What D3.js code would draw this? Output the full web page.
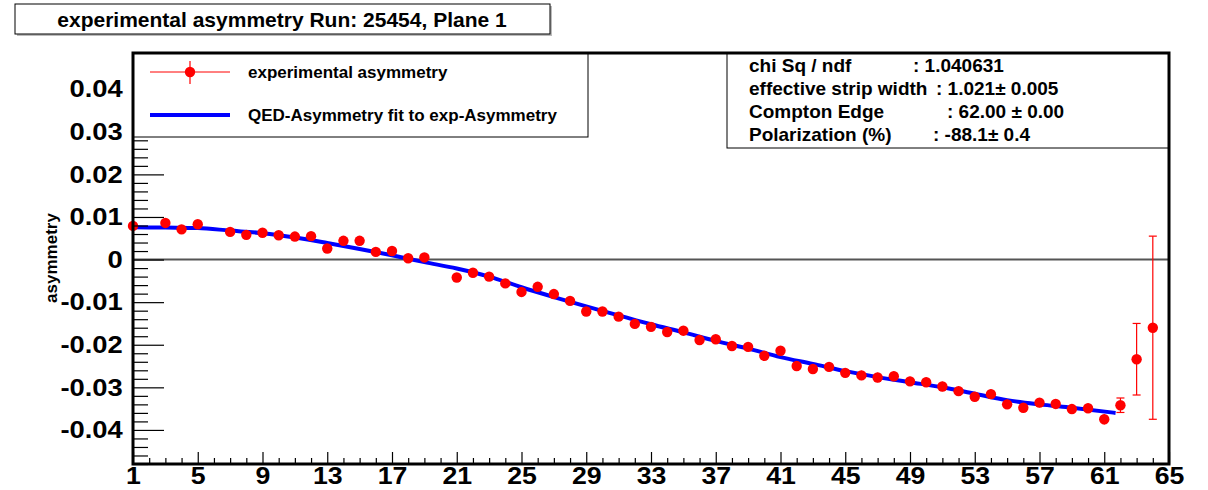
<!DOCTYPE html>
<html>
<head>
<meta charset="utf-8">
<script src="https://cdn.jsdelivr.net/npm/d3@7"></script>
<style>
  body { margin: 0; background: #fff; }
  svg text { font-family: "Liberation Sans", Arial, Helvetica, sans-serif; font-weight: bold; fill: #000; }
</style>
</head>
<body>
<svg id="chart" width="1208" height="490"></svg>
<script>
// ---- data -------------------------------------------------------------
// strips with a measured asymmetry (2, 6 and 20 are masked)
const strips = [1, 3, 4, 5, 7, 8, 9, 10, 11, 12, 13, 14, 15, 16, 17, 18, 19,
  21, 22, 23, 24, 25, 26, 27, 28, 29, 30, 31, 32, 33, 34, 35, 36, 37, 38, 39, 40,
  41, 42, 43, 44, 45, 46, 47, 48, 49, 50, 51, 52, 53, 54, 55, 56, 57, 58, 59, 60,
  61, 62, 63, 64];
const asym = [0.0079, 0.0086, 0.0071, 0.0083, 0.0065, 0.0058, 0.0063, 0.0057, 0.0054, 0.0055,
  0.0026, 0.0044, 0.0044, 0.0018, 0.0020, 0.0003, 0.0005,
  -0.0042, -0.0031, -0.0040, -0.0056, -0.0076, -0.0064, -0.0081, -0.0097, -0.0122, -0.0122,
  -0.0134, -0.0151, -0.0158, -0.0170, -0.0167, -0.0189, -0.0187, -0.0203, -0.0205, -0.0226,
  -0.0214, -0.0250, -0.0257, -0.0252, -0.0266, -0.0272, -0.0277, -0.0274, -0.0286, -0.0288,
  -0.0298, -0.0309, -0.0322, -0.0316, -0.0340, -0.0348, -0.0336, -0.0339, -0.0351, -0.0349,
  -0.0375, -0.0342, -0.0234, -0.0160];
const asymErr = [0.0010, 0.0010, 0.0010, 0.0010, 0.0010, 0.0010, 0.0010, 0.0010, 0.0010, 0.0010,
  0.0010, 0.0010, 0.0010, 0.0010, 0.0010, 0.0010, 0.0010,
  0.0010, 0.0010, 0.0010, 0.0010, 0.0010, 0.0010, 0.0010, 0.0010, 0.0010, 0.0010,
  0.0010, 0.0010, 0.0010, 0.0010, 0.0010, 0.0010, 0.0010, 0.0010, 0.0010, 0.0010,
  0.0011, 0.0011, 0.0011, 0.0011, 0.0011, 0.0011, 0.0011, 0.0011, 0.0011, 0.0011,
  0.0011, 0.0011, 0.0011, 0.0011, 0.0011, 0.0011, 0.0011, 0.0011, 0.0011, 0.0011,
  0.0012, 0.0017, 0.0084, 0.0215];

// QED asymmetry fit evaluated along the strips
const fitStrips = [1, 3, 5, 7, 9, 11, 13, 15, 17, 19, 21, 23, 25, 27, 29, 31, 33, 35, 37, 39,
  41, 43, 45, 47, 49, 51, 53, 55, 57, 59, 61.7];
const fitAsym = [0.0076, 0.0075, 0.0074, 0.0068, 0.0062, 0.0052, 0.0039, 0.0025, 0.0010, -0.0006,
  -0.0021, -0.0040, -0.0065, -0.0088, -0.0110, -0.0131, -0.0152, -0.0171, -0.0191, -0.0209,
  -0.0229, -0.0245, -0.0262, -0.0276, -0.0288, -0.0300, -0.0315, -0.0330, -0.0340, -0.0348, -0.0360];

const xTickValues = [1, 5, 9, 13, 17, 21, 25, 29, 33, 37, 41, 45, 49, 53, 57, 61, 65];
const xTickLabels = ["1", "5", "9", "13", "17", "21", "25", "29", "33", "37", "41", "45", "49", "53", "57", "61", "65"];
const yTickValues = [0.04, 0.03, 0.02, 0.01, 0, -0.01, -0.02, -0.03, -0.04];
const yTickLabels = ["0.04", "0.03", "0.02", "0.01", "0", "-0.01", "-0.02", "-0.03", "-0.04"];

const titleText = "experimental asymmetry Run: 25454, Plane 1";
const yTitle = "asymmetry";
const legendLabels = ["experimental asymmetry", "QED-Asymmetry fit to exp-Asymmetry"];
const statsNames = ["chi Sq / ndf", "effective strip width", "Compton Edge", "Polarization (%)"];
const statsValues = [": 1.040631", ": 1.021\u00b1 0.005", ": 62.00 \u00b1 0.00", ": -88.1\u00b1 0.4"];

// ---- layout -----------------------------------------------------------
const F = { left: 133, right: 1169, top: 53, bottom: 464 };
const svg = d3.select("#chart");

const x = d3.scaleLinear().domain([1, 65]).range([F.left, F.right]);
const y = d3.scaleLinear().domain([-0.048, 0.0485]).range([F.bottom, F.top]);

const R = 5.2; // marker radius
const points = strips.map((s, i) => ({ s, v: asym[i], e: asymErr[i] }));
const fitPts = fitStrips.map((s, i) => ({ s, v: fitAsym[i] }));

// zero line
svg.append("line")
  .attr("x1", F.left).attr("x2", F.right)
  .attr("y1", y(0)).attr("y2", y(0))
  .attr("stroke", "#555").attr("stroke-width", 2);

// fit curve
svg.append("path")
  .datum(fitPts)
  .attr("fill", "none")
  .attr("stroke", "#0000ff")
  .attr("stroke-width", 4)
  .attr("d", d3.line().x(d => x(d.s)).y(d => y(d.v)).curve(d3.curveMonotoneX));

// error bars; end caps only where the bar reaches past the marker
const eb = svg.append("g").attr("stroke", "#ff0000").attr("stroke-width", 1.2);
eb.selectAll("line.bar").data(points).join("line").attr("class", "bar")
  .attr("x1", d => x(d.s)).attr("x2", d => x(d.s))
  .attr("y1", d => y(d.v + d.e)).attr("y2", d => y(d.v - d.e));
const capped = points.filter(d => y(d.v - d.e) - y(d.v) > R + 2);
eb.selectAll("line.capT").data(capped).join("line").attr("class", "capT")
  .attr("x1", d => x(d.s) - 4).attr("x2", d => x(d.s) + 4)
  .attr("y1", d => y(d.v + d.e)).attr("y2", d => y(d.v + d.e));
eb.selectAll("line.capB").data(capped).join("line").attr("class", "capB")
  .attr("x1", d => x(d.s) - 4).attr("x2", d => x(d.s) + 4)
  .attr("y1", d => y(d.v - d.e)).attr("y2", d => y(d.v - d.e));

// markers
svg.append("g").selectAll("circle").data(points).join("circle")
  .attr("cx", d => x(d.s)).attr("cy", d => y(d.v)).attr("r", R)
  .attr("fill", "#ff0000");

// ---- axes (ticks drawn inside the frame) -------------------------------
const yMinor = d3.range(-24, 25).map(k => k * 0.002).filter(v => Math.abs(Math.round(v * 100) - v * 100) > 1e-6);
const xMinor = d3.range(1, 66).filter(v => (v - 1) % 4 !== 0);

const yMinorAxis = d3.axisLeft(y).tickValues(yMinor).tickSize(-15).tickFormat("");
const yMajorAxis = d3.axisLeft(y).tickValues(yTickValues).tickSize(-31).tickPadding(9)
  .tickFormat((d, i) => yTickLabels[i]);
const xMinorAxis = d3.axisBottom(x).tickValues(xMinor).tickSize(-6).tickFormat("");
const xMajorAxis = d3.axisBottom(x).tickValues(xTickValues).tickSize(-12).tickPadding(4)
  .tickFormat((d, i) => xTickLabels[i]);

function styleAxis(g) {
  g.select(".domain").remove();
  g.selectAll(".tick line").attr("stroke", "#000").attr("stroke-width", 1.2);
}

svg.append("g").attr("transform", `translate(${F.left},0)`).call(yMinorAxis).call(styleAxis);
const gy = svg.append("g").attr("transform", `translate(${F.left},0)`).call(yMajorAxis).call(styleAxis);
svg.append("g").attr("transform", `translate(0,${F.bottom})`).call(xMinorAxis).call(styleAxis);
const gx = svg.append("g").attr("transform", `translate(0,${F.bottom})`).call(xMajorAxis).call(styleAxis);

gy.selectAll(".tick text")
  .attr("font-family", "Liberation Sans, Arial, sans-serif").attr("font-weight", "bold")
  .attr("font-size", 24).attr("fill", "#000")
  .attr("transform", "scale(1.14,1)");
gx.selectAll(".tick text")
  .attr("font-family", "Liberation Sans, Arial, sans-serif").attr("font-weight", "bold")
  .attr("font-size", 23).attr("fill", "#000")
  .attr("transform", "scale(1.16,1)");
gx.selectAll(".tick text").attr("x", 0);

// y axis title
svg.append("text")
  .attr("transform", "translate(51,258) rotate(-90)")
  .attr("text-anchor", "middle").attr("dominant-baseline", "central")
  .attr("font-size", 17).text(yTitle);

// ---- legend -----------------------------------------------------------
const leg = svg.append("g");
leg.append("rect").attr("x", F.left).attr("y", F.top).attr("width", 455).attr("height", 84)
  .attr("fill", "#fff").attr("stroke", "#000").attr("stroke-width", 1);
leg.append("line").attr("x1", 150).attr("x2", 230).attr("y1", 72).attr("y2", 72)
  .attr("stroke", "#ff0000").attr("stroke-width", 1);
leg.append("line").attr("x1", 190).attr("x2", 190).attr("y1", 61).attr("y2", 84)
  .attr("stroke", "#ff0000").attr("stroke-width", 1.2);
leg.append("circle").attr("cx", 190).attr("cy", 72).attr("r", R).attr("fill", "#ff0000");
leg.append("line").attr("x1", 150).attr("x2", 230).attr("y1", 115).attr("y2", 115)
  .attr("stroke", "#0000ff").attr("stroke-width", 4);
leg.selectAll("text.lab").data(legendLabels).join("text").attr("class", "lab")
  .attr("x", 248).attr("y", (d, i) => i === 0 ? 72 : 115)
  .attr("dominant-baseline", "central").attr("font-size", 17).text(d => d);

// ---- fit statistics box -----------------------------------------------
const st = svg.append("g");
st.append("rect").attr("x", 727).attr("y", F.top).attr("width", F.right - 727).attr("height", 95)
  .attr("fill", "#fff").attr("stroke", "#000").attr("stroke-width", 1);
const statY = [65, 88.5, 111, 134];
const statValX = [913, 936, 947, 933];
st.selectAll("text.name").data(statsNames).join("text").attr("class", "name")
  .attr("x", 749).attr("y", (d, i) => statY[i])
  .attr("dominant-baseline", "central").attr("font-size", 19).text(d => d);
st.selectAll("text.val").data(statsValues).join("text").attr("class", "val")
  .attr("x", (d, i) => statValX[i]).attr("y", (d, i) => statY[i])
  .attr("dominant-baseline", "central").attr("font-size", 19).text(d => d);

// ---- frame ------------------------------------------------------------
svg.append("rect")
  .attr("x", F.left).attr("y", F.top)
  .attr("width", F.right - F.left).attr("height", F.bottom - F.top)
  .attr("fill", "none").attr("stroke", "#000").attr("stroke-width", 3);

// ---- title box --------------------------------------------------------
svg.append("rect").attr("x", 17).attr("y", 6).attr("width", 535).attr("height", 30).attr("fill", "#bbb");
svg.append("rect").attr("x", 15).attr("y", 4).attr("width", 535).attr("height", 30)
  .attr("fill", "#fff").attr("stroke", "#000").attr("stroke-width", 1);
svg.append("text").attr("x", 282).attr("y", 19)
  .attr("text-anchor", "middle").attr("dominant-baseline", "central")
  .attr("font-size", 21).text(titleText);
</script>
</body>
</html>
